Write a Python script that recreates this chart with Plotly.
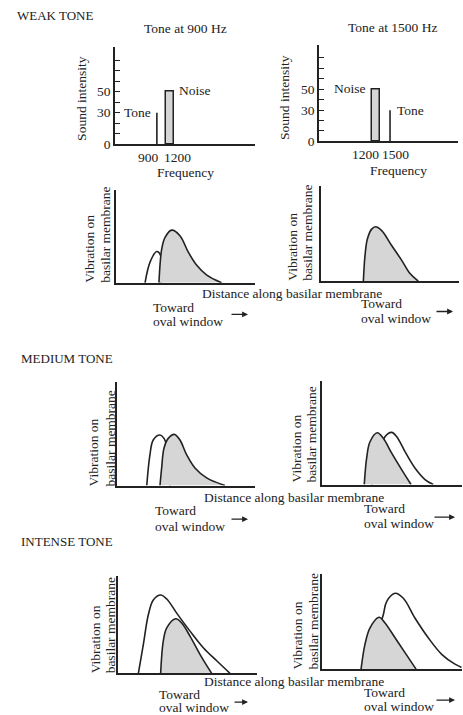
import plotly.graph_objects as go

# ---------------- data ----------------
# Top spectra: sound intensity vs frequency
tone_freq_left = 900
tone_freq_right = 1500
tone_level = 30
noise_center = 1200
noise_width = 180
noise_level = 50
intensity_ticks = [0, 10, 20, 30, 40, 50, 60, 70, 80]
intensity_labels = ["0", "", "", "30", "", "50", "", "", ""]

# Excitation patterns (distance along basilar membrane 0-100, vibration 0-100)
weak_900_tone_x = [20.9, 24.5, 29.3, 32.0, 32.4]
weak_900_tone_y = [0, 22.3, 33.7, 29.8, 0]
weak_900_noise_x = [30.9, 32.9, 35.3, 40.1, 46.0, 52.0, 58.1, 65.3, 76.0]
weak_900_noise_y = [0, 36.5, 48.9, 56.7, 50.7, 33.0, 18.8, 8.2, 0]

weak_1500_tone_x = [38.0, 41.0, 44.0, 48.0, 52.0]
weak_1500_tone_y = [0, 20.0, 28.0, 20.0, 0]
weak_1500_noise_x = [30.7, 31.9, 33.6, 36.7, 39.6, 44.0, 51.2, 58.5, 64.5, 70.5]
weak_1500_noise_y = [0, 27.0, 44.2, 54.6, 57.1, 53.0, 37.4, 21.8, 7.9, 0]

medium_900_tone_x = [21.4, 23.7, 26.1, 31.0, 33.9, 35.9, 38.3]
medium_900_tone_y = [0, 29.7, 44.1, 48.9, 45.7, 37.7, 0]
medium_900_noise_x = [31.0, 32.2, 33.9, 37.0, 41.4, 45.5, 50.4, 56.4, 64.9, 78.2]
medium_900_noise_y = [0, 17.0, 36.1, 45.7, 49.6, 44.1, 29.7, 17.0, 7.4, 0]

medium_1500_tone_x = [35.9, 40.2, 45.2, 50.0, 53.6, 59.5, 66.6, 73.8, 79.7]
medium_1500_tone_y = [0, 23.8, 46.0, 50.2, 46.0, 31.7, 15.9, 4.8, 0]
medium_1500_noise_x = [30.4, 32.1, 34.5, 39.7, 44.0, 50.0, 57.1, 63.8]
medium_1500_noise_y = [0, 25.4, 41.2, 49.8, 44.5, 30.2, 14.3, 0]

intense_900_tone_x = [14.5, 18.1, 21.7, 25.3, 30.6, 35.0, 42.2, 51.8, 61.4, 71.1, 80.7]
intense_900_tone_y = [0, 29.9, 60.5, 75.8, 80.9, 76.8, 62.2, 43.6, 26.5, 13.0, 0]
intense_900_noise_x = [30.6, 32.5, 35.0, 41.5, 45.8, 51.8, 59.0, 67.5]
intense_900_noise_y = [0, 33.4, 46.9, 56.4, 52.0, 38.5, 19.7, 0]

intense_1500_tone_x = [35.9, 40.2, 44.0, 46.4, 52.4, 58.3, 66.6, 76.1, 85.7, 95.2, 100.0]
intense_1500_tone_y = [0, 38.0, 56.9, 70.7, 79.3, 74.1, 53.5, 32.8, 15.5, 5.2, 1.8]
intense_1500_noise_x = [28.1, 30.9, 34.5, 40.9, 45.2, 52.4, 59.5, 67.4]
intense_1500_noise_y = [0, 25.9, 43.1, 54.2, 48.3, 32.8, 17.3, 0]

# ---------------- styling ----------------
W, H = 463, 715
FONT = "Liberation Serif"
INK = "#222222"
GREY = "#d6d6d6"
FS = 13.5


def fx(p):
    return p / W


def fy(p):
    return 1 - p / H


fig = go.Figure()
layout = {}

# panel geometry in page pixels: (x0, x1, ytop, ybase)
panels = {
    1: (115, 255, 48, 146),      # spectrum 900
    2: (319, 458, 46, 143),      # spectrum 1500
    3: (116, 255, 192, 286),     # weak 900
    4: (321, 459, 188, 284.3),   # weak 1500
    5: (117.3, 255, 386.7, 491),  # medium 900
    6: (321.7, 461.7, 385, 490),  # medium 1500
    7: (118.3, 256.7, 583, 681),  # intense 900
    8: (321.7, 461.7, 580, 676.7),  # intense 1500
}

spec_xrange = {1: [-60, 3150], 2: [-20, 2955]}

for i, (x0, x1, yt, yb) in panels.items():
    xk = "xaxis" if i == 1 else f"xaxis{i}"
    yk = "yaxis" if i == 1 else f"yaxis{i}"
    xa = dict(domain=[fx(x0), fx(x1)], anchor="y" if i == 1 else f"y{i}",
              showline=True, linecolor=INK, linewidth=1.5, showgrid=False,
              zeroline=False, ticks="", showticklabels=False, fixedrange=True)
    ya = dict(domain=[fy(yb), fy(yt)], anchor="x" if i == 1 else f"x{i}",
              showline=True, linecolor=INK, linewidth=1.5, showgrid=False,
              zeroline=False, fixedrange=True)
    if i in spec_xrange:
        xa["range"] = spec_xrange[i]
        ya.update(range=[0, 92], tickmode="array", tickvals=intensity_ticks,
                  ticktext=intensity_labels, ticks="inside", ticklen=5,
                  tickwidth=1, tickcolor=INK, showticklabels=True,
                  tickfont=dict(family=FONT, size=FS, color=INK))
    else:
        xa["range"] = [0, 100]
        ya.update(range=[0, 100], ticks="", showticklabels=False)
    layout[xk] = xa
    layout[yk] = ya


def axref(i):
    return ("x", "y") if i == 1 else (f"x{i}", f"y{i}")


# spectra
for i, tf in ((1, tone_freq_left), (2, tone_freq_right)):
    xr, yr = axref(i)
    fig.add_trace(go.Bar(x=[noise_center], y=[noise_level], width=[noise_width],
                         marker=dict(color=GREY, line=dict(color=INK, width=1.5)),
                         xaxis=xr, yaxis=yr, hoverinfo="skip"))
    fig.add_trace(go.Scatter(x=[tf, tf], y=[0, tone_level], mode="lines",
                             line=dict(color=INK, width=1.6),
                             xaxis=xr, yaxis=yr, hoverinfo="skip"))

curves = {
    3: (weak_900_tone_x, weak_900_tone_y, weak_900_noise_x, weak_900_noise_y),
    4: (weak_1500_tone_x, weak_1500_tone_y, weak_1500_noise_x, weak_1500_noise_y),
    5: (medium_900_tone_x, medium_900_tone_y, medium_900_noise_x, medium_900_noise_y),
    6: (medium_1500_tone_x, medium_1500_tone_y, medium_1500_noise_x, medium_1500_noise_y),
    7: (intense_900_tone_x, intense_900_tone_y, intense_900_noise_x, intense_900_noise_y),
    8: (intense_1500_tone_x, intense_1500_tone_y, intense_1500_noise_x, intense_1500_noise_y),
}
for i, (tx, ty, nx, ny) in curves.items():
    xr, yr = axref(i)
    fig.add_trace(go.Scatter(x=tx, y=ty, mode="lines", fill="toself",
                             fillcolor="white",
                             line=dict(color=INK, width=1.6, shape="spline", smoothing=1.0),
                             xaxis=xr, yaxis=yr, hoverinfo="skip"))
    fig.add_trace(go.Scatter(x=nx, y=ny, mode="lines", fill="toself",
                             fillcolor=GREY,
                             line=dict(color=INK, width=1.6, shape="spline", smoothing=1.0),
                             xaxis=xr, yaxis=yr, hoverinfo="skip"))

ann = []


def text(t, x, y, xanchor="center", size=FS, yanchor="middle", **kw):
    d = dict(text=t, x=fx(x), y=fy(y), xref="paper", yref="paper",
             xanchor=xanchor, yanchor=yanchor, showarrow=False, borderpad=0,
             font=dict(family=FONT, size=size, color=INK))
    d.update(kw)
    ann.append(d)


# headers
text("WEAK TONE", 16, 16, xanchor="left", size=13)
text("MEDIUM TONE", 20, 363, xanchor="left", size=13)
text("INTENSE TONE", 20, 548, xanchor="left", size=13)
text("Tone at 900 Hz", 185.5, 29)
text("Tone at 1500 Hz", 392.5, 28)

# spectrum axis titles
text("Sound intensity", 82, 100, textangle=-90)
text("Sound intensity", 285, 99, textangle=-90)
text("Frequency", 185, 174)
text("Frequency", 398, 172)

# frequency tick labels and mark labels (data coords)
for i, tf, shifts in ((1, tone_freq_left, (-8, 8)), (2, tone_freq_right, (5, -11))):
    xr, yr = axref(i)
    ybase = panels[i][3]
    ann.append(dict(text=str(tf), x=tf, y=fy(ybase + 13), xref=xr, yref="paper",
                    xshift=shifts[0], showarrow=False, yanchor="middle", borderpad=0,
                    font=dict(family=FONT, size=FS, color=INK)))
    ann.append(dict(text=str(noise_center), x=noise_center, y=fy(ybase + 13), xref=xr,
                    yref="paper", xshift=shifts[1], showarrow=False, yanchor="middle",
                    borderpad=0, font=dict(family=FONT, size=FS, color=INK)))
    if tf < noise_center:
        ann.append(dict(text="Tone", x=tf, y=tone_level, xref=xr, yref=yr, xanchor="right",
                        xshift=-5, showarrow=False, yanchor="middle", borderpad=0,
                        font=dict(family=FONT, size=FS, color=INK)))
        ann.append(dict(text="Noise", x=noise_center + noise_width / 2, y=noise_level + 1,
                        xref=xr, yref=yr, xanchor="left", xshift=4, showarrow=False,
                        yanchor="middle", borderpad=0,
                        font=dict(family=FONT, size=FS, color=INK)))
    else:
        ann.append(dict(text="Tone", x=tf, y=tone_level, xref=xr, yref=yr, xanchor="left",
                        xshift=6, showarrow=False, yanchor="middle", borderpad=0,
                        font=dict(family=FONT, size=FS, color=INK)))
        ann.append(dict(text="Noise", x=noise_center - noise_width / 2, y=noise_level + 1,
                        xref=xr, yref=yr, xanchor="right", xshift=-5, showarrow=False,
                        yanchor="middle", borderpad=0,
                        font=dict(family=FONT, size=FS, color=INK)))

# vibration axis titles (two rotated lines, bottom aligned)
for (x1, x2, bottom) in ((90, 106, 287), (293, 308, 285), (93, 110, 493),
                         (297, 312, 489), (95, 110, 682), (297, 313, 678)):
    text("Vibration on", x1, bottom, yanchor="bottom", textangle=-90)
    text("basilar membrane", x2, bottom, yanchor="bottom", textangle=-90)

# distance labels
for (cx, yy) in ((292, 297), (294, 503), (294, 689)):
    text("Distance along basilar membrane", cx, yy)

# toward oval window labels + arrows
for (lx, ty, oy, a0, a1, ay) in ((152, 311, 325, 230, 248, 318),
                                  (360, 307, 322, 435, 453, 315),
                                  (154, 516, 532, 230, 248, 525),
                                  (363, 514, 529, 433, 455, 523),
                                  (158, 702, 715, 233, 248, 710),
                                  (363, 700, 714, 435, 455, 708)):
    text("Toward", lx, ty, xanchor="left")
    text("oval window", lx, oy, xanchor="left")
    ann.append(dict(text="", x=fx(a1), y=fy(ay), xref="paper", yref="paper",
                    ax=-(a1 - a0), ay=0, showarrow=True, arrowhead=2, arrowsize=0.9,
                    arrowwidth=1.3, arrowcolor=INK))

fig.update_layout(**layout)
fig.update_layout(width=W, height=H, margin=dict(l=0, r=0, t=0, b=0),
                  paper_bgcolor="white", plot_bgcolor="white", showlegend=False,
                  annotations=ann, bargap=0,
                  font=dict(family=FONT, size=FS, color=INK))

# remove the browser's default 8px body margin so the figure fills the page exactly
fig.write_html("out.html", config={"displayModeBar": False},
               post_script="document.body.style.margin='0';document.body.style.overflow='hidden';")
